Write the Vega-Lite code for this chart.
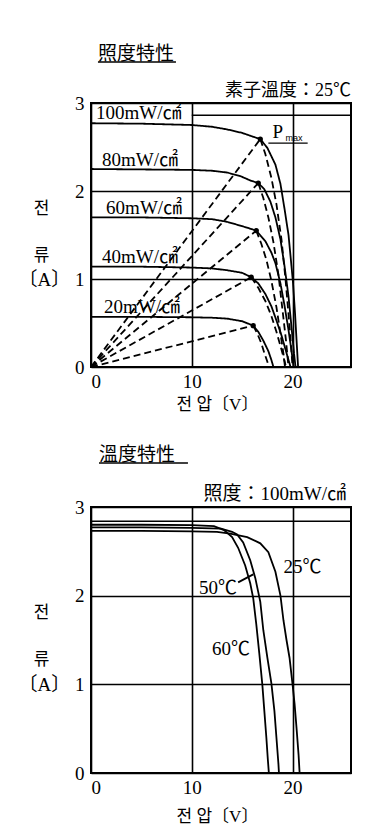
{
  "$schema": "https://vega.github.io/schema/vega-lite/v6.json",
  "background": "white",
  "padding": {"left": 17, "top": 44, "right": 5, "bottom": 5},
  "config": {
    "font": "Liberation Serif",
    "view": {"stroke": "black", "strokeWidth": 2},
    "axis": {
      "grid": true, "gridColor": "black", "gridWidth": 1.6, "gridOpacity": 1,
      "domain": false, "ticks": false,
      "labelFont": "Liberation Serif, Noto Sans CJK KR", "labelFontSize": 19, "labelColor": "black",
      "titleFont": "Liberation Serif, Noto Sans CJK KR", "titleFontSize": 17, "titleFontWeight": "normal", "titleColor": "black"
    },
    "title": {"font": "Noto Sans CJK JP", "fontSize": 19, "fontWeight": "normal", "color": "black", "anchor": "start", "frame": "group"},
    "line": {"color": "black", "strokeWidth": 1.8},
    "text": {"color": "black"}
  },
  "bounds": "flush",
  "spacing": 140,
  "datasets": {
    "topCurves": [
      {"s":"100","k":"s","v":0,"i":2.77},{"s":"100","k":"s","v":5,"i":2.765},{"s":"100","k":"s","v":10,"i":2.75},{"s":"100","k":"s","v":12,"i":2.73},{"s":"100","k":"s","v":13.5,"i":2.70},{"s":"100","k":"s","v":15,"i":2.66},{"s":"100","k":"s","v":16,"i":2.62},{"s":"100","k":"s","v":16.8,"i":2.59},{"s":"100","k":"s","v":17.5,"i":2.49},{"s":"100","k":"s","v":18.3,"i":2.30},{"s":"100","k":"s","v":18.8,"i":2.08},{"s":"100","k":"s","v":19.2,"i":1.8},{"s":"100","k":"s","v":19.6,"i":1.5},{"s":"100","k":"s","v":19.85,"i":1.2},{"s":"100","k":"s","v":20.05,"i":0.95},{"s":"100","k":"s","v":20.25,"i":0.6},{"s":"100","k":"s","v":20.4,"i":0.3},{"s":"100","k":"s","v":20.55,"i":0},
      {"s":"100d","k":"d","v":16.8,"i":2.59},{"s":"100d","k":"d","v":17.3,"i":2.42},{"s":"100d","k":"d","v":17.9,"i":2.15},{"s":"100d","k":"d","v":18.4,"i":1.85},{"s":"100d","k":"d","v":18.9,"i":1.45},{"s":"100d","k":"d","v":19.3,"i":1.0},{"s":"100d","k":"d","v":19.6,"i":0.6},{"s":"100d","k":"d","v":19.85,"i":0.25},{"s":"100d","k":"d","v":20.0,"i":0},
      {"s":"100o","k":"d","v":0,"i":0},{"s":"100o","k":"d","v":16.8,"i":2.59},
      {"s":"80","k":"s","v":0,"i":2.25},{"s":"80","k":"s","v":5,"i":2.245},{"s":"80","k":"s","v":10,"i":2.24},{"s":"80","k":"s","v":12,"i":2.23},{"s":"80","k":"s","v":13.5,"i":2.21},{"s":"80","k":"s","v":14.8,"i":2.17},{"s":"80","k":"s","v":15.8,"i":2.12},{"s":"80","k":"s","v":16.6,"i":2.09},{"s":"80","k":"s","v":17.2,"i":2.02},{"s":"80","k":"s","v":17.8,"i":1.88},{"s":"80","k":"s","v":18.3,"i":1.70},{"s":"80","k":"s","v":18.8,"i":1.45},{"s":"80","k":"s","v":19.2,"i":1.15},{"s":"80","k":"s","v":19.6,"i":0.8},{"s":"80","k":"s","v":19.9,"i":0.45},{"s":"80","k":"s","v":20.15,"i":0.15},{"s":"80","k":"s","v":20.3,"i":0},
      {"s":"80d","k":"d","v":16.6,"i":2.09},{"s":"80d","k":"d","v":17.1,"i":1.92},{"s":"80d","k":"d","v":17.6,"i":1.70},{"s":"80d","k":"d","v":18.1,"i":1.42},{"s":"80d","k":"d","v":18.6,"i":1.05},{"s":"80d","k":"d","v":19.0,"i":0.65},{"s":"80d","k":"d","v":19.35,"i":0.3},{"s":"80d","k":"d","v":19.6,"i":0},
      {"s":"80o","k":"d","v":0,"i":0},{"s":"80o","k":"d","v":16.6,"i":2.09},
      {"s":"60","k":"s","v":0,"i":1.70},{"s":"60","k":"s","v":5,"i":1.70},{"s":"60","k":"s","v":10,"i":1.69},{"s":"60","k":"s","v":12,"i":1.68},{"s":"60","k":"s","v":13.5,"i":1.65},{"s":"60","k":"s","v":15.3,"i":1.59},{"s":"60","k":"s","v":16.4,"i":1.55},{"s":"60","k":"s","v":17.3,"i":1.43},{"s":"60","k":"s","v":17.9,"i":1.30},{"s":"60","k":"s","v":18.3,"i":1.18},{"s":"60","k":"s","v":18.8,"i":0.95},{"s":"60","k":"s","v":19.2,"i":0.7},{"s":"60","k":"s","v":19.6,"i":0.42},{"s":"60","k":"s","v":19.9,"i":0.18},{"s":"60","k":"s","v":20.1,"i":0},
      {"s":"60d","k":"d","v":16.4,"i":1.55},{"s":"60d","k":"d","v":16.9,"i":1.40},{"s":"60d","k":"d","v":17.4,"i":1.22},{"s":"60d","k":"d","v":17.9,"i":0.98},{"s":"60d","k":"d","v":18.4,"i":0.68},{"s":"60d","k":"d","v":18.8,"i":0.38},{"s":"60d","k":"d","v":19.1,"i":0.15},{"s":"60d","k":"d","v":19.25,"i":0},
      {"s":"60o","k":"d","v":0,"i":0},{"s":"60o","k":"d","v":16.4,"i":1.55},
      {"s":"40","k":"s","v":0,"i":1.14},{"s":"40","k":"s","v":5,"i":1.14},{"s":"40","k":"s","v":10,"i":1.13},{"s":"40","k":"s","v":12,"i":1.12},{"s":"40","k":"s","v":13.5,"i":1.10},{"s":"40","k":"s","v":15,"i":1.07},{"s":"40","k":"s","v":15.9,"i":1.02},{"s":"40","k":"s","v":16.6,"i":0.95},{"s":"40","k":"s","v":17.3,"i":0.83},{"s":"40","k":"s","v":17.9,"i":0.69},{"s":"40","k":"s","v":18.4,"i":0.53},{"s":"40","k":"s","v":18.9,"i":0.36},{"s":"40","k":"s","v":19.3,"i":0.2},{"s":"40","k":"s","v":19.6,"i":0.08},{"s":"40","k":"s","v":19.8,"i":0},
      {"s":"40d","k":"d","v":15.9,"i":1.02},{"s":"40d","k":"d","v":16.6,"i":0.90},{"s":"40d","k":"d","v":17.3,"i":0.75},{"s":"40d","k":"d","v":17.9,"i":0.58},{"s":"40d","k":"d","v":18.4,"i":0.40},{"s":"40d","k":"d","v":18.9,"i":0.2},{"s":"40d","k":"d","v":19.2,"i":0.07},{"s":"40d","k":"d","v":19.35,"i":0},
      {"s":"40o","k":"d","v":0,"i":0},{"s":"40o","k":"d","v":15.9,"i":1.02},
      {"s":"20","k":"s","v":0,"i":0.57},{"s":"20","k":"s","v":5,"i":0.57},{"s":"20","k":"s","v":10,"i":0.565},{"s":"20","k":"s","v":12,"i":0.56},{"s":"20","k":"s","v":13.5,"i":0.55},{"s":"20","k":"s","v":15,"i":0.52},{"s":"20","k":"s","v":16.1,"i":0.47},{"s":"20","k":"s","v":16.6,"i":0.40},{"s":"20","k":"s","v":17.1,"i":0.30},{"s":"20","k":"s","v":17.6,"i":0.18},{"s":"20","k":"s","v":17.9,"i":0.08},{"s":"20","k":"s","v":18.1,"i":0},
      {"s":"20d","k":"d","v":16.1,"i":0.47},{"s":"20d","k":"d","v":16.5,"i":0.38},{"s":"20d","k":"d","v":16.9,"i":0.27},{"s":"20d","k":"d","v":17.2,"i":0.16},{"s":"20d","k":"d","v":17.5,"i":0.06},{"s":"20d","k":"d","v":17.65,"i":0},
      {"s":"20o","k":"d","v":0,"i":0},{"s":"20o","k":"d","v":16.1,"i":0.47}
    ],
    "topMpp": [
      {"v":16.8,"i":2.59},{"v":16.6,"i":2.09},{"v":16.4,"i":1.55},{"v":15.9,"i":1.02},{"v":16.1,"i":0.47}
    ],
    "topLabels": [
      {"t":"100mW/㎠","v":0.5,"i":2.89},
      {"t":"80mW/㎠","v":1.1,"i":2.35},
      {"t":"60mW/㎠","v":1.5,"i":1.81},
      {"t":"40mW/㎠","v":1.1,"i":1.25},
      {"t":"20mW/㎠","v":1.3,"i":0.68}
    ],
    "topRules": [
      {"v":10,"v2":25.8,"i":2.86,"w":"g"},
      {"v":17.6,"v2":21.5,"i":2.545,"w":"u"},
      {"v":0.69,"v2":8.43,"i":3.466,"w":"u"}
    ],
    "botCurves": [
      {"s":"60C","v":0,"i":2.80},{"s":"60C","v":5,"i":2.80},{"s":"60C","v":10,"i":2.795},{"s":"60C","v":12.2,"i":2.785},{"s":"60C","v":13.2,"i":2.74},{"s":"60C","v":14.0,"i":2.66},{"s":"60C","v":14.6,"i":2.54},{"s":"60C","v":15.3,"i":2.34},{"s":"60C","v":15.8,"i":2.14},{"s":"60C","v":16.1,"i":1.97},{"s":"60C","v":16.4,"i":1.68},{"s":"60C","v":16.7,"i":1.35},{"s":"60C","v":17.0,"i":1.0},{"s":"60C","v":17.2,"i":0.7},{"s":"60C","v":17.4,"i":0.4},{"s":"60C","v":17.55,"i":0.15},{"s":"60C","v":17.65,"i":0},
      {"s":"50C","v":0,"i":2.77},{"s":"50C","v":5,"i":2.77},{"s":"50C","v":10,"i":2.765},{"s":"50C","v":12.9,"i":2.755},{"s":"50C","v":14.0,"i":2.72},{"s":"50C","v":14.5,"i":2.69},{"s":"50C","v":15.1,"i":2.60},{"s":"50C","v":15.8,"i":2.40},{"s":"50C","v":16.3,"i":2.20},{"s":"50C","v":16.8,"i":1.93},{"s":"50C","v":17.1,"i":1.61},{"s":"50C","v":17.5,"i":1.3},{"s":"50C","v":17.9,"i":1.01},{"s":"50C","v":18.2,"i":0.7},{"s":"50C","v":18.4,"i":0.4},{"s":"50C","v":18.6,"i":0.1},{"s":"50C","v":18.65,"i":0},
      {"s":"25C","v":0,"i":2.73},{"s":"25C","v":5,"i":2.73},{"s":"25C","v":10,"i":2.725},{"s":"25C","v":12.5,"i":2.72},{"s":"25C","v":13.8,"i":2.70},{"s":"25C","v":15.5,"i":2.66},{"s":"25C","v":16.8,"i":2.59},{"s":"25C","v":17.6,"i":2.49},{"s":"25C","v":18.3,"i":2.27},{"s":"25C","v":18.8,"i":2.0},{"s":"25C","v":19.1,"i":1.72},{"s":"25C","v":19.4,"i":1.5},{"s":"25C","v":19.7,"i":1.3},{"s":"25C","v":20.0,"i":1.0},{"s":"25C","v":20.2,"i":0.78},{"s":"25C","v":20.4,"i":0.5},{"s":"25C","v":20.6,"i":0.2},{"s":"25C","v":20.7,"i":0},
      {"s":"lead","v":14.6,"i":2.15},{"s":"lead","v":16.1,"i":2.24}
    ],
    "botLabels": [
      {"t":"25℃","v":19.1,"i":2.32,"a":"l"},
      {"t":"50℃","v":14.5,"i":2.09,"a":"r"},
      {"t":"60℃","v":12.0,"i":1.40,"a":"l"}
    ],
    "botRules": [
      {"v":0,"v2":25.8,"i":2.84,"w":"g"},
      {"v":0.79,"v2":9.62,"i":3.496,"w":"u"}
    ]
  },
  "vconcat": [
    {
      "width": 260, "height": 264,
      "title": {"text": "照度特性", "dx": 7, "offset": -22, "baseline": "bottom"},
      "encoding": {
        "x": {"field": "v", "type": "quantitative", "scale": {"domain": [0, 25.8], "nice": false, "zero": false},
              "axis": {"values": [0, 10, 20], "labelPadding": 5, "title": "전 압〔V〕", "titlePadding": 5, "titleX": 126}},
        "y": {"field": "i", "type": "quantitative", "scale": {"domain": [0, 3], "nice": false},
              "axis": {"values": [0, 1, 2, 3], "labelPadding": 7, "labelExpr": "datum.value == 1 ? '〔A〕 ' + datum.label : datum.label",
                       "title": ["전", "류"], "titleAngle": 0, "titleX": -50, "titleY": 97, "titleAlign": "center", "titleBaseline": "top", "titleLineHeight": 47}}
      },
      "layer": [
        {"data": {"name": "topCurves"}, "mark": {"type": "line"},
         "encoding": {"detail": {"field": "s"}, "strokeDash": {"field": "k", "type": "nominal", "scale": {"domain": ["s", "d"], "range": [[1, 0], [7, 4]]}, "legend": null}}},
        {"data": {"name": "topMpp"}, "mark": {"type": "point", "filled": true, "size": 28, "color": "black", "opacity": 1}},
        {"data": {"name": "topRules"}, "mark": {"type": "rule", "color": "black"},
         "encoding": {"x2": {"field": "v2"}, "strokeWidth": {"field": "w", "type": "nominal", "scale": {"domain": ["g", "u"], "range": [1.6, 1.3]}, "legend": null}}},
        {"data": {"name": "topLabels"}, "mark": {"type": "text", "align": "left", "baseline": "middle", "fontSize": 19, "font": "Liberation Serif, Noto Sans CJK JP"}, "encoding": {"text": {"field": "t"}}},
        {"data": {"values": [{"t": "P", "v": 18.0, "i": 2.67}]}, "mark": {"type": "text", "align": "left", "baseline": "middle", "fontSize": 19}, "encoding": {"text": {"field": "t"}}},
        {"data": {"values": [{"t": "max", "v": 19.3, "i": 2.605}]}, "mark": {"type": "text", "align": "left", "baseline": "middle", "fontSize": 9, "font": "Liberation Sans"}, "encoding": {"text": {"field": "t"}}},
        {"data": {"values": [{"t": "素子溫度：25℃", "v": 25.8, "i": 3}]}, "mark": {"type": "text", "align": "right", "baseline": "bottom", "dy": -3, "fontSize": 18, "font": "Liberation Serif, Noto Sans CJK JP"}, "encoding": {"text": {"field": "t"}}}
      ]
    },
    {
      "width": 260, "height": 266,
      "title": {"text": "溫度特性", "dx": 8, "offset": -22, "baseline": "bottom"},
      "encoding": {
        "x": {"field": "v", "type": "quantitative", "scale": {"domain": [0, 25.8], "nice": false, "zero": false},
              "axis": {"values": [0, 10, 20], "labelPadding": 5, "title": "전 압〔V〕", "titlePadding": 11, "titleX": 126}},
        "y": {"field": "i", "type": "quantitative", "scale": {"domain": [0, 3], "nice": false},
              "axis": {"values": [0, 1, 2, 3], "labelPadding": 7, "labelExpr": "datum.value == 1 ? '〔A〕 ' + datum.label : datum.label",
                       "title": ["전", "류"], "titleAngle": 0, "titleX": -50, "titleY": 97, "titleAlign": "center", "titleBaseline": "top", "titleLineHeight": 47}}
      },
      "layer": [
        {"data": {"name": "botCurves"}, "mark": {"type": "line"}, "encoding": {"detail": {"field": "s"}}},
        {"data": {"name": "botRules"}, "mark": {"type": "rule", "color": "black"},
         "encoding": {"x2": {"field": "v2"}, "strokeWidth": {"field": "w", "type": "nominal", "scale": {"domain": ["g", "u"], "range": [1.6, 1.3]}, "legend": null}}},
        {"data": {"name": "botLabels"}, "transform": [{"filter": "datum.a == 'l'"}], "mark": {"type": "text", "align": "left", "baseline": "middle", "fontSize": 19, "font": "Liberation Serif, Noto Sans CJK JP"}, "encoding": {"text": {"field": "t"}}},
        {"data": {"name": "botLabels"}, "transform": [{"filter": "datum.a == 'r'"}], "mark": {"type": "text", "align": "right", "baseline": "middle", "fontSize": 19, "font": "Liberation Serif, Noto Sans CJK JP"}, "encoding": {"text": {"field": "t"}}},
        {"data": {"values": [{"t": "照度：100mW/㎠", "v": 25.3, "i": 3}]}, "mark": {"type": "text", "align": "right", "baseline": "bottom", "dy": -3, "fontSize": 19, "font": "Liberation Serif, Noto Sans CJK JP"}, "encoding": {"text": {"field": "t"}}}
      ]
    }
  ]
}
